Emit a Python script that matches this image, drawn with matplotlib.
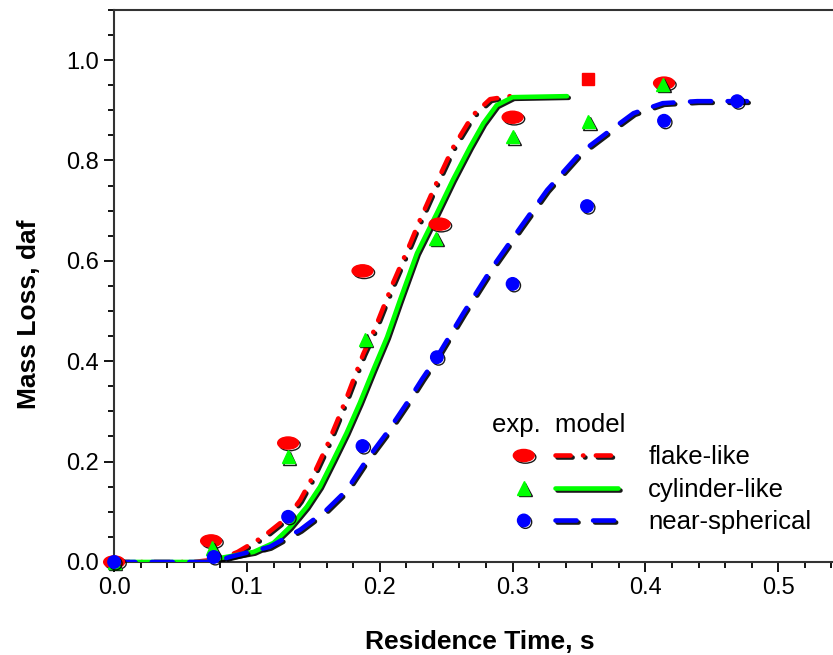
import matplotlib
matplotlib.use("Agg")
import matplotlib.pyplot as plt
import matplotlib.patheffects as pe
from matplotlib.legend_handler import HandlerTuple
from matplotlib.path import Path
from matplotlib.ticker import MultipleLocator, FormatStrFormatter
import numpy as np

plt.rcParams['font.family'] = ['Liberation Sans', 'DejaVu Sans']

# experimental points
flake_t = [0.0, 0.073, 0.131, 0.187, 0.245, 0.300, 0.414]
flake_m = [0.0, 0.042, 0.237, 0.580, 0.673, 0.886, 0.954]
flake_sq_t = [0.357]
flake_sq_m = [0.962]

cyl_t = [0.0, 0.074, 0.131, 0.189, 0.242, 0.300, 0.357, 0.413]
cyl_m = [0.0, 0.028, 0.210, 0.444, 0.645, 0.847, 0.877, 0.952]

sph_t = [0.0, 0.075, 0.131, 0.187, 0.243, 0.300, 0.356, 0.414, 0.469]
sph_m = [0.0, 0.010, 0.090, 0.231, 0.408, 0.554, 0.709, 0.879, 0.918]

# model curves
flake_mod_t = [0.0, 0.06, 0.080, 0.093, 0.112, 0.130, 0.140, 0.148, 0.160, 0.168,
               0.176, 0.1875, 0.1965, 0.2025, 0.210, 0.223, 0.230, 0.243, 0.255,
               0.270, 0.283, 0.298]
flake_mod_m = [0.0, 0.0, 0.006, 0.020, 0.050, 0.088, 0.123, 0.162, 0.230, 0.281,
               0.334, 0.414, 0.466, 0.506, 0.556, 0.635, 0.680, 0.757, 0.825,
               0.890, 0.922, 0.928]

cyl_mod_t = [0.0, 0.07, 0.080, 0.105, 0.120, 0.1325, 0.145, 0.155, 0.165, 0.175,
             0.185, 0.195, 0.2055, 0.215, 0.228, 0.243, 0.255, 0.268, 0.278,
             0.288, 0.300, 0.341]
cyl_mod_m = [0.0, 0.0, 0.008, 0.020, 0.038, 0.070, 0.110, 0.150, 0.203, 0.257,
             0.317, 0.382, 0.448, 0.520, 0.615, 0.695, 0.761, 0.827, 0.874,
             0.910, 0.926, 0.928]

sph_mod_t = [0.0, 0.075, 0.087, 0.117, 0.140, 0.160, 0.175, 0.190, 0.2055, 0.2205,
             0.232, 0.243, 0.263, 0.285, 0.306, 0.326, 0.351, 0.371, 0.391,
             0.413, 0.439, 0.4765]
sph_mod_m = [0.0, 0.0, 0.010, 0.030, 0.064, 0.104, 0.143, 0.203, 0.258, 0.317,
             0.365, 0.408, 0.496, 0.588, 0.667, 0.741, 0.815, 0.855, 0.894,
             0.914, 0.918, 0.918]

RED = '#ff0000'
GREEN = '#00ff00'
BLUE = '#0000ff'

# wide oval marker for the flake-like points
circ = Path.unit_circle()
oval = Path(circ.vertices * np.array([1.0, 0.58]), circ.codes)

shadow = [pe.SimpleLineShadow(offset=(1.2, -1.2), shadow_color='k', alpha=0.9), pe.Normal()]

fig = plt.figure(figsize=(8.33, 6.55), dpi=100)
ax = fig.add_axes([0.137, 0.142, 0.877, 0.843])

# model lines
l_flake, = ax.plot(flake_mod_t, flake_mod_m, color=RED, lw=3.3,
                   dashes=(3.3, 2.7, 0.1, 2.7), dash_capstyle='round',
                   solid_joinstyle='round', path_effects=shadow, zorder=3)
l_cyl, = ax.plot(cyl_mod_t, cyl_mod_m, color=GREEN, lw=3.3,
                 solid_capstyle='round', solid_joinstyle='round',
                 path_effects=shadow, zorder=4)
l_sph, = ax.plot(sph_mod_t, sph_mod_m, color=BLUE, lw=3.3,
                 dashes=(4.6, 3.6), dash_capstyle='round',
                 path_effects=shadow, zorder=5)

# experimental markers
m_flake, = ax.plot(flake_t, flake_m, ls='none', marker=oval, ms=15, color=RED,
                   mec=RED, path_effects=shadow, clip_on=False, zorder=6)
ax.plot(flake_sq_t, flake_sq_m, ls='none', marker='s', ms=8, color=RED,
        mec=RED, clip_on=False, zorder=6)
m_cyl, = ax.plot(cyl_t, cyl_m, ls='none', marker='^', ms=9.5, color=GREEN,
                 mec=GREEN, path_effects=shadow, clip_on=False, zorder=7)
m_sph, = ax.plot(sph_t, sph_m, ls='none', marker='o', ms=9, color=BLUE,
                 mec=BLUE, path_effects=shadow, clip_on=False, zorder=8)

ax.set_xlim(0, 0.55)
ax.set_ylim(0, 1.1)
ax.xaxis.set_major_locator(MultipleLocator(0.1))
ax.xaxis.set_minor_locator(MultipleLocator(0.02))
ax.yaxis.set_major_locator(MultipleLocator(0.2))
ax.yaxis.set_minor_locator(MultipleLocator(0.05))
ax.xaxis.set_major_formatter(FormatStrFormatter('%.1f'))
ax.yaxis.set_major_formatter(FormatStrFormatter('%.1f'))
ax.tick_params(which='both', direction='out', width=1.3, labelsize=17,
               top=False, right=False)
ax.tick_params(which='major', length=7, pad=4)
ax.tick_params(which='minor', length=4.3)
for s in ax.spines.values():
    s.set_linewidth(1.5)
    s.set_color('#333333')
ax.spines['right'].set_visible(False)

ax.set_xlabel('Residence Time, s', fontsize=19, fontweight='bold')
ax.set_ylabel('Mass Loss, daf', fontsize=19, fontweight='bold')
ax.xaxis.set_label_coords(0.5, -0.123)
ax.yaxis.set_label_coords(-0.10, 0.449)

leg = ax.legend([(m_flake, l_flake), (m_cyl, l_cyl), (m_sph, l_sph)],
                ['flake-like', 'cylinder-like', 'near-spherical'],
                handler_map={tuple: HandlerTuple(ndivide=2, pad=0.0)},
                loc='lower left', bbox_to_anchor=(0.486, 0.008),
                frameon=False, fontsize=18.5, numpoints=1,
                handlelength=4.9, handletextpad=1.17, labelspacing=0.33,
                title='exp.  model', title_fontsize=18.5, alignment='left')

fig.savefig('out.png', dpi=100)
